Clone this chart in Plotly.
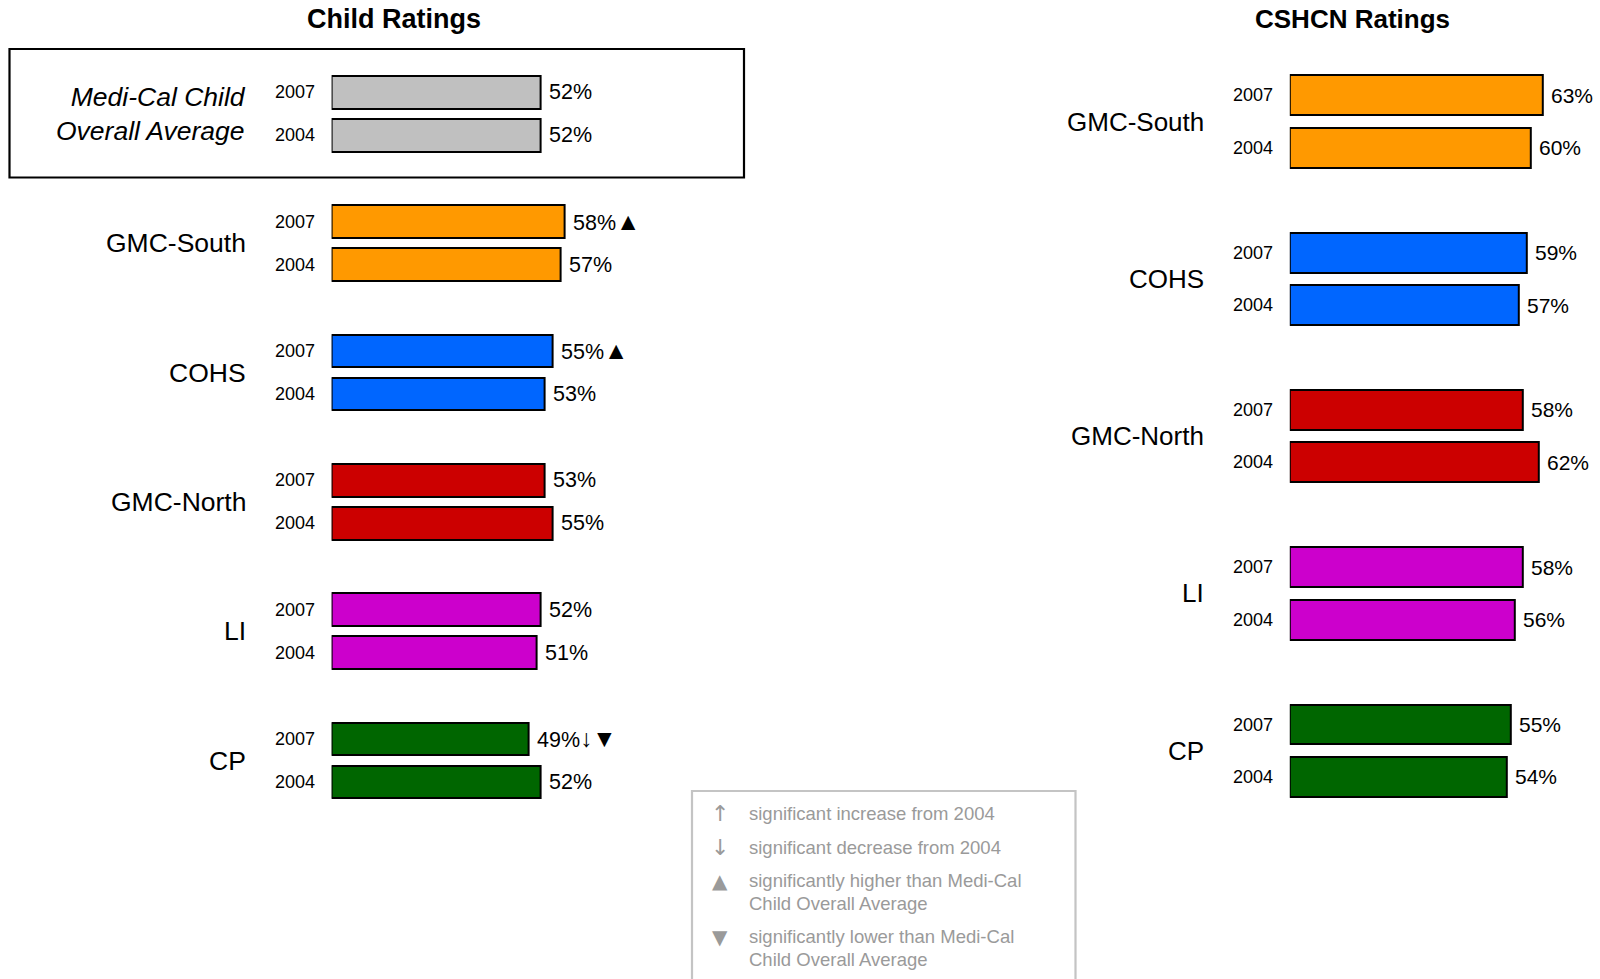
import plotly.graph_objects as go

# ---------------- data ----------------
child_categories = ["Medi-Cal Child Overall Average", "GMC-South", "COHS", "GMC-North", "LI", "CP"]
child_2007 = [52, 58, 55, 53, 52, 49]
child_2004 = [52, 57, 53, 55, 51, 52]
child_flags_2007 = ["", "▲", "▲", "", "", "↓▼"]
child_flags_2004 = ["", "", "", "", "", ""]
child_colors = ["#C0C0C0", "#FF9900", "#0066FF", "#CC0000", "#CC00CC", "#006600"]

cshcn_categories = ["GMC-South", "COHS", "GMC-North", "LI", "CP"]
cshcn_2007 = [63, 59, 58, 58, 55]
cshcn_2004 = [60, 57, 62, 56, 54]
cshcn_colors = ["#FF9900", "#0066FF", "#CC0000", "#CC00CC", "#006600"]

years = ["2007", "2004"]

legend_symbols = ["↑", "↓", "▲", "▼"]
legend_texts = [
    ["significant increase from 2004"],
    ["significant decrease from 2004"],
    ["significantly higher than Medi-Cal", "Child Overall Average"],
    ["significantly lower than Medi-Cal", "Child Overall Average"],
]

# ---------------- layout helpers ----------------
W, H = 1600, 979
FONT = "Liberation Sans, Arial, Helvetica, sans-serif"


def px_x(p):
    return p / W


def px_y(p):
    return 1 - p / H


fig = go.Figure()
annotations = []


def add_panel(cats, v07, v04, colors, flags07, flags04, xa, ya, pct_size, yr_size, cat_size,
              italic_first=False):
    y07 = [i * 3 for i in range(len(cats))]
    y04 = [i * 3 + 1 for i in range(len(cats))]
    for yy, vv in ((y07, v07), (y04, v04)):
        fig.add_trace(go.Bar(
            x=vv, y=yy, orientation="h", width=0.76,
            marker=dict(color=colors, line=dict(color="black", width=2)),
            xaxis=xa, yaxis=ya, showlegend=False, hoverinfo="skip",
        ))
    for i, c in enumerate(cats):
        for yy, vv, ff, yrlab in ((y07[i], v07[i], flags07[i], years[0]), (y04[i], v04[i], flags04[i], years[1])):
            flag = f"<span style='font-size:{pct_size + 3}px'>{ff}</span>" if ff else ""
            annotations.append(dict(x=vv, y=yy, xref=xa, yref=ya, text=f"{vv}%{flag}",
                                    showarrow=False, xanchor="left", xshift=6,
                                    font=dict(family=FONT, size=pct_size, color="black")))
            annotations.append(dict(x=0, y=yy, xref=xa, yref=ya, text=yrlab,
                                    showarrow=False, xanchor="right", xshift=-15,
                                    font=dict(family=FONT, size=yr_size, color="black")))
        if italic_first and i == 0:
            words = c.split(" ")
            txt = "<i>" + " ".join(words[:2]) + "<br>" + " ".join(words[2:]) + "</i>"
        else:
            txt = c
        annotations.append(dict(x=0, y=(y07[i] + y04[i]) / 2, xref=xa, yref=ya, text=txt,
                                showarrow=False, xanchor="right", align="right", xshift=-84,
                                font=dict(family=FONT, size=cat_size, color="black")))


add_panel(child_categories, child_2007, child_2004, child_colors, child_flags_2007, child_flags_2004,
          "x", "y", 21.5, 18, 26.5, italic_first=True)
add_panel(cshcn_categories, cshcn_2007, cshcn_2004, cshcn_colors, ["", "", "", "", ""], ["", "", "", "", ""],
          "x2", "y2", 21, 18, 26)

# titles
annotations.append(dict(x=px_x(394), y=px_y(19), xref="paper", yref="paper", text="<b>Child Ratings</b>",
                        showarrow=False, xanchor="center", yanchor="middle",
                        font=dict(family=FONT, size=27, color="black")))
annotations.append(dict(x=px_x(1352), y=px_y(19), xref="paper", yref="paper", text="<b>CSHCN Ratings</b>",
                        showarrow=False, xanchor="center", yanchor="middle",
                        font=dict(family=FONT, size=26, color="black")))

# legend (key)
legend_gray = "#9a9a9a"
line_rows = [[813], [847], [880.6, 903], [936.7, 959.2]]
sym_sizes = [22, 22, 20, 20]
for sym, lines, rows, ss in zip(legend_symbols, legend_texts, line_rows, sym_sizes):
    annotations.append(dict(x=px_x(720), y=px_y(rows[0]), xref="paper", yref="paper", text=sym,
                            showarrow=False, xanchor="center", yanchor="middle",
                            font=dict(family="DejaVu Sans, sans-serif", size=ss, color=legend_gray)))
    for ln, r in zip(lines, rows):
        annotations.append(dict(x=px_x(747), y=px_y(r), xref="paper", yref="paper", text=ln,
                                showarrow=False, xanchor="left", yanchor="middle",
                                font=dict(family=FONT, size=18.5, color=legend_gray)))

shapes = [
    dict(type="rect", xref="paper", yref="paper", x0=px_x(9.5), x1=px_x(744), y0=px_y(49), y1=px_y(177.5),
         line=dict(color="black", width=2.2), fillcolor="rgba(0,0,0,0)"),
    dict(type="rect", xref="paper", yref="paper", x0=px_x(692), x1=px_x(1075.5), y0=px_y(791), y1=px_y(990),
         line=dict(color="#c4c4c4", width=2.2), fillcolor="rgba(0,0,0,0)"),
]

axis_off = dict(showgrid=False, zeroline=False, showticklabels=False, showline=False, ticks="", fixedrange=True)

fig.update_layout(
    width=W, height=H,
    margin=dict(l=0, r=0, t=0, b=0),
    paper_bgcolor="white", plot_bgcolor="rgba(0,0,0,0)",
    font=dict(family=FONT, color="black"),
    bargap=0,
    xaxis=dict(domain=[px_x(331.6), px_x(331.6 + 100 * 4.02)], range=[0, 100], **axis_off),
    yaxis=dict(domain=[0, 1], range=[20.568, -2.141], anchor="x", **axis_off),
    xaxis2=dict(domain=[px_x(1289.8), px_x(1289.8 + 75 * 4.02)], range=[0, 75], anchor="y2", **axis_off),
    yaxis2=dict(domain=[0, 1], range=[16.853, -1.8196], anchor="x2", **axis_off),
    annotations=annotations,
    shapes=shapes,
)

fig.write_html("out.html")
